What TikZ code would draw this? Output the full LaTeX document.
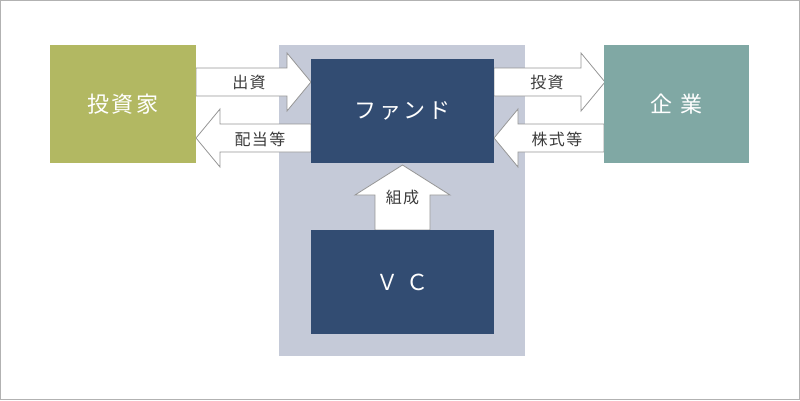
\documentclass[tikz,border=0pt]{standalone}
\usepackage{fontspec}
\setmainfont{Noto Sans CJK JP}
\newfontfamily\boxfont[LetterSpace=12]{Noto Sans CJK JP}
\newfontfamily\labfont[LetterSpace=8]{Noto Sans CJK JP}
\usepackage{tikz}
\definecolor{olive}{RGB}{178,184,98}
\definecolor{teal}{RGB}{128,168,164}
\definecolor{navy}{RGB}{50,76,114}
\definecolor{panel}{RGB}{197,202,216}
\definecolor{edge}{RGB}{150,150,150}
\definecolor{labtext}{RGB}{60,60,60}

% block arrow: tail x, tip x, middle y
\newcommand{\blockarrow}[3]{%
  \pgfmathsetmacro\hb{#2-24*sign(#2-#1)}
  \draw[blockarr] (#1,#3-14) -- (\hb,#3-14) -- (\hb,#3-29) -- (#2,#3)
    -- (\hb,#3+29) -- (\hb,#3+14) -- (#1,#3+14) -- cycle;}

\begin{document}
\begin{tikzpicture}[x=1pt,y=-1pt,
	box/.style={draw=none,minimum width=#1,text=white,font=\boxfont\fontsize{22}{26}\selectfont},
	blockarr/.style={draw=edge,fill=white,line width=0.8pt,line join=miter},
	lab/.style={text=labtext,font=\labfont\fontsize{16}{19}\selectfont,inner sep=0pt}]
	\useasboundingbox (0,0) rectangle (800,400);
	\draw[draw=black!30,line width=1pt] (0.5,0.5) rectangle (799.5,399.5);
	\fill[panel] (279,45) rectangle (525,356);
	% arrows first, boxes cover their ends
	\blockarrow{196}{311}{82}
	\blockarrow{311}{196}{138}
	\blockarrow{494}{605}{82}
	\blockarrow{604}{494}{138}
	\draw[blockarr] (375,230) -- (375,195) -- (355,195) -- (402.5,165)
		-- (450,195) -- (430,195) -- (430,230) -- cycle;
	\node[box=146,minimum height=118,fill=olive] (inv) at (123,104) {投資家};
	\node[box=183,minimum height=104,fill=navy] (fund) at (402.5,111) {ファンド};
	\node[box=183,minimum height=104,fill=navy] (vc) at (402.5,282) {Ｖ Ｃ};
	\node[box=145,minimum height=118,fill=teal] (corp) at (676.5,104) {企 業};
	\node[lab] (shusshi) at (249,82) {出資};
	\node[lab] (haito) at (260,139) {配当等};
	\node[lab] (toshi) at (547,82) {投資};
	\node[lab] (kabu) at (557,139) {株式等};
	\node[lab] (kosei) at (402.5,197) {組成};
\end{tikzpicture}
\end{document}
